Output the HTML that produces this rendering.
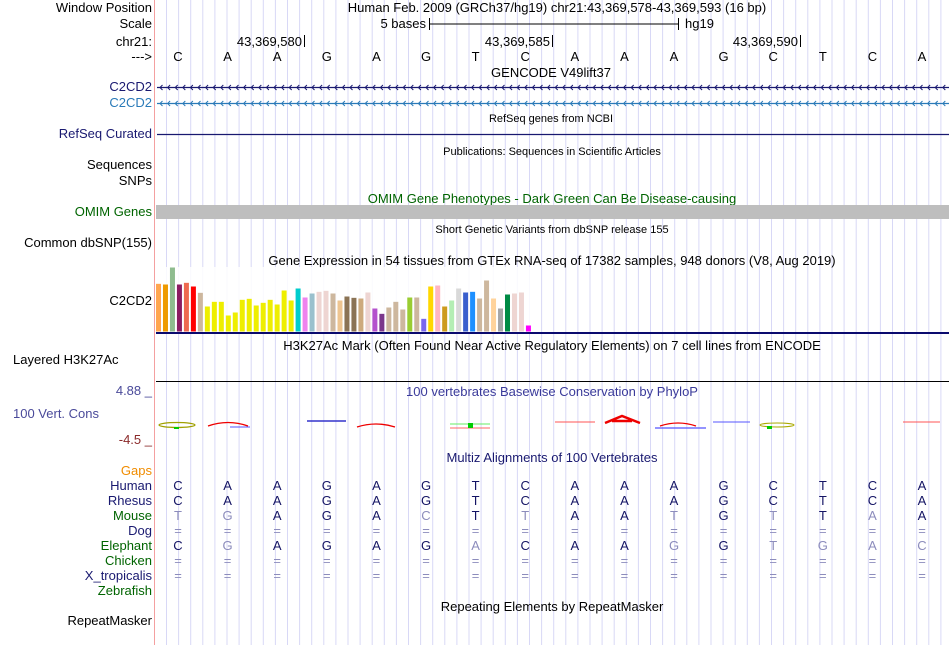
<!DOCTYPE html>
<html><head><meta charset="utf-8"><style>
body{margin:0;background:#fff;width:950px;height:645px;overflow:hidden;position:relative;font-family:"Liberation Sans",sans-serif;}
.l{position:absolute;right:798px;font-size:13px;white-space:nowrap;line-height:14px;color:#000}
svg{position:absolute;left:0;top:0}
</style></head><body>
<svg id="s" width="950" height="645" font-family="Liberation Sans, sans-serif"></svg>
<div id="labels"></div>
<script>
const NS='http://www.w3.org/2000/svg';
const svg=document.getElementById('s');
function el(t,a,p){const e=document.createElementNS(NS,t);for(const k in a)e.setAttribute(k,a[k]);(p||svg).appendChild(e);return e;}
function tx(x,y,s,size,fill,anchor){const e=el('text',{x:x,y:y,'font-size':size,fill:fill,'text-anchor':anchor||'middle'});e.textContent=s;return e;}
// grid
for(let i=0;i<65;i++){const x=166.5+i*12.1;const g=el('line',{x1:x,y1:0,x2:x,y2:645,stroke:'#d8d8f6','stroke-width':1});

}
const pl=el('line',{x1:154.5,y1:0,x2:154.5,y2:645,stroke:'#f4a0a0','stroke-width':1});


// labels
const labels=[["Window Position",8,"#000"],["Scale",24,"#000"],["chr21:",42,"#000"],["--->",57,"#000"],["C2CD2",87,"#191970"],["C2CD2",103,"#2a7ab8"],["RefSeq Curated",134,"#191970"],["Sequences",165,"#000"],["SNPs",181,"#000"],["OMIM Genes",212,"#006400"],["Common dbSNP(155)",243,"#000"],["C2CD2",301,"#000"],["4.88 _",391,"#4a4a9a"],["-4.5 _",440,"#8b2a2a"],["Gaps",471,"#f08c00"],["Human",486,"#191970"],["Rhesus",501,"#191970"],["Mouse",516,"#006400"],["Dog",531,"#191970"],["Elephant",546,"#006400"],["Chicken",561,"#006400"],["X_tropicalis",576,"#191970"],["Zebrafish",591,"#006400"],["RepeatMasker",621,"#000"]];
const L=document.getElementById('labels');
labels.forEach(([t,y,c])=>{const d=document.createElement('div');d.className='l';d.style.top=(y-7)+'px';d.style.color=c;d.textContent=t;


L.appendChild(d);});
[["Layered H3K27Ac",360,"#000",13],["100 Vert. Cons",414,"#4a4a9a",13]].forEach(([t,y,c,x])=>{const d=document.createElement('div');d.className='l';d.style.right='auto';d.style.left=x+'px';d.style.top=(y-7)+'px';d.style.color=c;d.textContent=t;


L.appendChild(d);});
// header
tx(557,12,"Human Feb. 2009 (GRCh37/hg19)   chr21:43,369,578-43,369,593 (16 bp)",13,'#000').setAttribute('xml:space','preserve');
tx(426,28,"5 bases",13,'#000','end');
el('line',{x1:429.5,y1:18,x2:429.5,y2:30,stroke:'#000'});el('line',{x1:678.5,y1:18,x2:678.5,y2:30,stroke:'#000'});el('line',{x1:429,y1:24,x2:678,y2:24,stroke:'#000'});
tx(685,28,"hg19",13,'#000','start');
[[304,"43,369,580"],[552,"43,369,585"],[800,"43,369,590"]].forEach(([x,s])=>{tx(x-2,46,s,13,'#000','end');el('line',{x1:x+.5,y1:35,x2:x+.5,y2:47,stroke:'#000'});});
const bases=["C","A","A","G","A","G","T","C","A","A","A","G","C","T","C","A"];
const bx=i=>178+i*49.6;
bases.forEach((b,i)=>tx(bx(i),61,b,13,'#000'));
tx(551,77,"GENCODE V49lift37",13,'#000');
function gene(y,c){el('line',{x1:157,y1:y,x2:949,y2:y,stroke:c,'stroke-width':1.3});for(let x=160;x<949;x+=7.6)el('polyline',{points:`${x+2.5},${y-2.5} ${x},${y} ${x+2.5},${y+2.5}`,fill:'none',stroke:c,'stroke-width':1});}
gene(87.5,'#191970');gene(103.5,'#2a7ab8');
tx(551,122,"RefSeq genes from NCBI",11,'#000');
el('line',{x1:157,y1:134.5,x2:949,y2:134.5,stroke:'#191970','stroke-width':1.3});
tx(552,155,"Publications: Sequences in Scientific Articles",11,'#000');
tx(552,203,"OMIM Gene Phenotypes - Dark Green Can Be Disease-causing",13,'#006400');
el('rect',{x:156,y:205,width:793,height:14,fill:'#bebebe'});
tx(552,233,"Short Genetic Variants from dbSNP release 155",11,'#000');
tx(552,265,"Gene Expression in 54 tissues from GTEx RNA-seq of 17382 samples, 948 donors (V8, Aug 2019)",13,'#000');
// GTEx chart data
const tissueValues=[143,141,192,141,146,135,116,75,89,89,48,57,95,98,78,86,95,81,123,93,129,102,114,119,122,114,93,105,101,99,117,69,53,72,89,66,102,102,38,135,138,75,93,129,117,119,99,153,99,69,111,114,117,18];
const tissueColors=["#FFA54F","#EE9A00","#8FBC8F","#8B1C62","#EE6A50","#FF0000","#CDB79E","#EEEE00","#EEEE00","#EEEE00","#EEEE00","#EEEE00","#EEEE00","#EEEE00","#EEEE00","#EEEE00","#EEEE00","#EEEE00","#EEEE00","#EEEE00","#00CDCD","#EE82EE","#9AC0CD","#EED5D2","#EED5D2","#CDB79E","#EEC591","#8B7355","#8B7355","#CDAA7D","#EED5D2","#B452CD","#7A378B","#CDB79E","#CDB79E","#CDB79E","#9ACD32","#CDB79E","#7A67EE","#FFD700","#FFB6C1","#CD9B1D","#B4EEB4","#D9D9D9","#3A5FCD","#1E90FF","#CDB79E","#CDB79E","#FFD39B","#A6A6A6","#008B45","#EED5D2","#EED5D2","#FF00FF"];
const base=331.5,maxV=192,plotH=64;
const yS=v=>v/maxV*plotH, xS=i=>156+i*6.98;
el('rect',{x:156,y:267,width:377,height:65,fill:'#fff',opacity:0.85});
tissueValues.forEach((v,i)=>{const r=el('rect',{x:xS(i),y:base-yS(v),width:5,height:yS(v),fill:tissueColors[i]});

});
el('line',{x1:156,y1:333,x2:949,y2:333,stroke:'#0a0a6e','stroke-width':2});
tx(552,350,"H3K27Ac Mark (Often Found Near Active Regulatory Elements) on 7 cell lines from ENCODE",13,'#000');
el('line',{x1:156,y1:381.5,x2:949,y2:381.5,stroke:'#000','stroke-width':1});
tx(552,396,"100 vertebrates Basewise Conservation by PhyloP",13,'#3a3a9a');
// conservation glyphs
el('ellipse',{cx:177,cy:425,rx:18,ry:2.5,fill:'none',stroke:'#a0a000','stroke-width':1.2});el('rect',{x:174,y:427,width:5,height:2,fill:'#0c0'});
el('path',{d:'M208 426 Q228 419 248 426',fill:'none',stroke:'#e00','stroke-width':1.3});el('line',{x1:230,y1:427,x2:250,y2:427,stroke:'#55f'});
el('line',{x1:307,y1:421,x2:346,y2:421,stroke:'#33c','stroke-width':1.5});
el('path',{d:'M357 427 Q376 421 395 427',fill:'none',stroke:'#e00','stroke-width':1.3});
el('line',{x1:450,y1:424,x2:490,y2:424,stroke:'#6e6','stroke-width':1});el('line',{x1:450,y1:428,x2:490,y2:428,stroke:'#f66','stroke-width':1});el('rect',{x:468,y:423,width:5,height:5,fill:'#0c0'});
el('line',{x1:555,y1:422,x2:595,y2:422,stroke:'#f55','stroke-width':1});
el('path',{d:'M605 423 L622 416 L640 423 M612 421 L632 421',fill:'none',stroke:'#e00','stroke-width':2.5});
el('path',{d:'M660 426 Q678 420 696 426',fill:'none',stroke:'#e00','stroke-width':1.3});el('line',{x1:655,y1:428,x2:706,y2:428,stroke:'#55f','stroke-width':1.3});
el('line',{x1:713,y1:422,x2:750,y2:422,stroke:'#55f','stroke-width':1});
el('ellipse',{cx:777,cy:425,rx:17,ry:2,fill:'none',stroke:'#aa0','stroke-width':1});el('rect',{x:767,y:426,width:5,height:3,fill:'#0c0'});
el('line',{x1:903,y1:422,x2:940,y2:422,stroke:'#f55','stroke-width':1});
tx(552,462,"Multiz Alignments of 100 Vertebrates",13,'#191970');
// multiz
const human="CAAGAGTCAAAGCTCA",rhesus="CAAGAGTCAAAGCTCA",mouse="TGAGACTTAATGTTAA",dog="================",elephant="CGAGAGACAAGGTGAC",chicken="================",xtrop="================";
[[human,490],[rhesus,505],[mouse,520],[dog,535],[elephant,550],[chicken,565],[xtrop,580]].forEach(([s,y])=>{for(let i=0;i<16;i++){const c=s[i];const dark=c===human[i];tx(bx(i),y,c,13,dark?'#141464':'#8c8cbc');}});
tx(552,611,"Repeating Elements by RepeatMasker",13,'#000');
</script>
</body></html>
